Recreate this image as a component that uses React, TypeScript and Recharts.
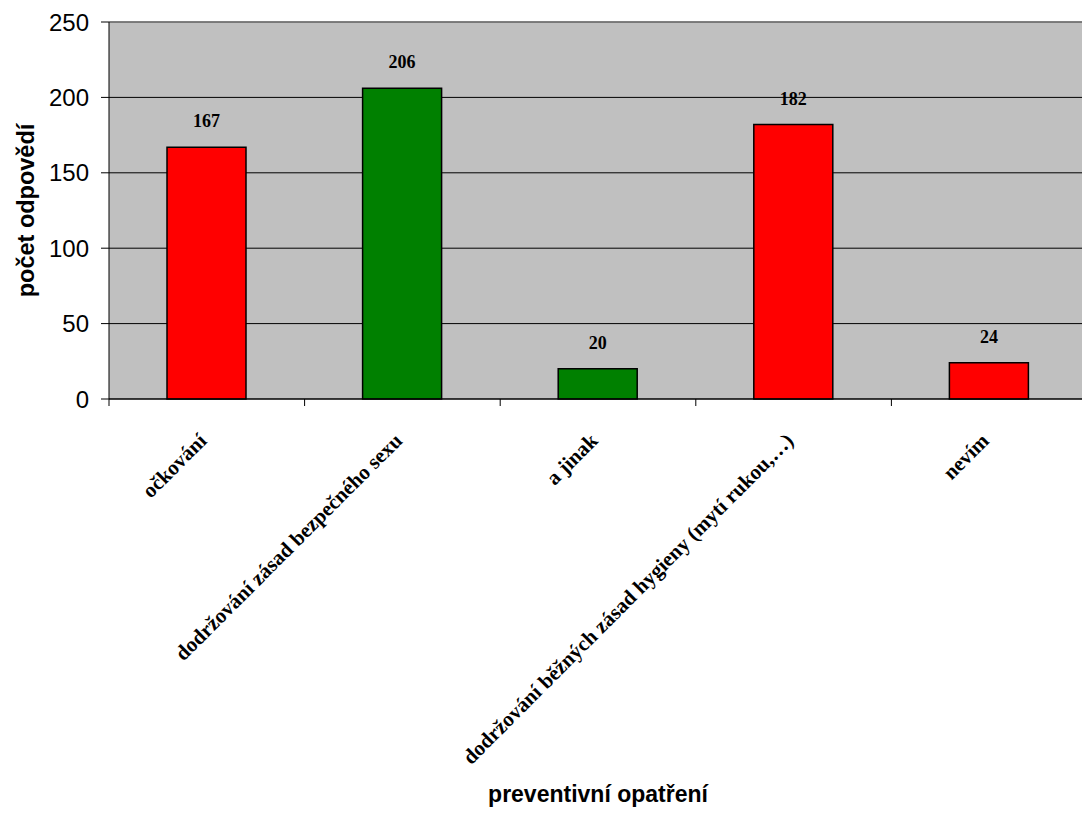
import { BarChart, Bar, XAxis, YAxis, CartesianGrid, Cell, LabelList, ReferenceLine, Label } from "recharts";

const categories = [
  "očkování",
  "dodržování zásad bezpečného sexu",
  "a jinak",
  "dodržování běžných zásad hygieny (mytí rukou,…)",
  "nevím",
];
const answers = [167, 206, 20, 182, 24];
const barColors = ["#ff0000", "#008000", "#008000", "#ff0000", "#ff0000"];
const yTicks = [0, 50, 100, 150, 200, 250];

const data = categories.map((label, i) => ({ label, value: answers[i] }));

const CHART_W = 1100;
const CHART_H = 825;
const MARGIN = { top: 22, right: 13, left: 0, bottom: 0 };
const Y_AXIS_W = 109;
const X_AXIS_H = 426;
const BAND_HALF = (CHART_W - MARGIN.left - MARGIN.right - Y_AXIS_W) / categories.length / 2;

const SANS = "'Liberation Sans', Arial, sans-serif";
const SERIF = "'Liberation Serif', 'Times New Roman', serif";

// rotated category name plus a small tick on the left band edge
function CategoryTick(props: any) {
  const { x, y, payload } = props;
  const tx = x + 1;
  const ty = y + 43;
  return (
    <g>
      <line x1={x - BAND_HALF} y1={y} x2={x - BAND_HALF} y2={y + 7} stroke="#000" />
      <text
        x={tx}
        y={ty}
        transform={`rotate(-45, ${tx}, ${ty})`}
        textAnchor="end"
        fontFamily={SERIF}
        fontWeight="bold"
        fontSize={21}
        fill="#000"
      >
        {payload.value}
      </text>
    </g>
  );
}

export default function App() {
  return (
    <div style={{ position: "absolute", left: 0, top: 0, width: 1082, height: 825, overflow: "hidden", background: "#fff" }}>
      <BarChart width={CHART_W} height={CHART_H} data={data} margin={MARGIN}>
        <CartesianGrid vertical={false} stroke="#000" fill="#c0c0c0" />
        <XAxis
          dataKey="label"
          height={X_AXIS_H}
          interval={0}
          tickSize={0}
          tickMargin={0}
          tick={<CategoryTick />}
          axisLine={{ stroke: "#000" }}
        >
          <Label
            content={({ viewBox }: any) => (
              <text
                x={viewBox.x + viewBox.width / 2}
                y={viewBox.y + viewBox.height - 23}
                textAnchor="middle"
                fontFamily={SANS}
                fontWeight="bold"
                fontSize={23}
                fill="#000"
              >
                preventivní opatření
              </text>
            )}
          />
        </XAxis>
        <YAxis
          width={Y_AXIS_W}
          domain={[0, 250]}
          ticks={yTicks}
          interval={0}
          tickSize={8}
          tickMargin={12}
          axisLine={{ stroke: "#000" }}
          tickLine={{ stroke: "#000" }}
          tick={{ fontFamily: SANS, fontSize: 24, fill: "#000" }}
        >
          <Label
            content={({ viewBox }: any) => {
              const cx = 34;
              const cy = viewBox.y + viewBox.height / 2;
              return (
                <text
                  x={cx}
                  y={cy}
                  transform={`rotate(-90, ${cx}, ${cy})`}
                  textAnchor="middle"
                  fontFamily={SANS}
                  fontWeight="bold"
                  fontSize={23.5}
                  fill="#000"
                >
                  počet odpovědí
                </text>
              );
            }}
          />
        </YAxis>
        <ReferenceLine y={250} stroke="#808080" strokeWidth={1.5} />
        <Bar dataKey="value" barSize={79} stroke="#000" strokeWidth={1.5} isAnimationActive={false}>
          {data.map((_, i) => (
            <Cell key={i} fill={barColors[i]} />
          ))}
          <LabelList
            dataKey="value"
            position="top"
            offset={20}
            fontFamily={SERIF}
            fontWeight="bold"
            fontSize={18}
            fill="#000"
          />
        </Bar>
      </BarChart>
    </div>
  );
}
